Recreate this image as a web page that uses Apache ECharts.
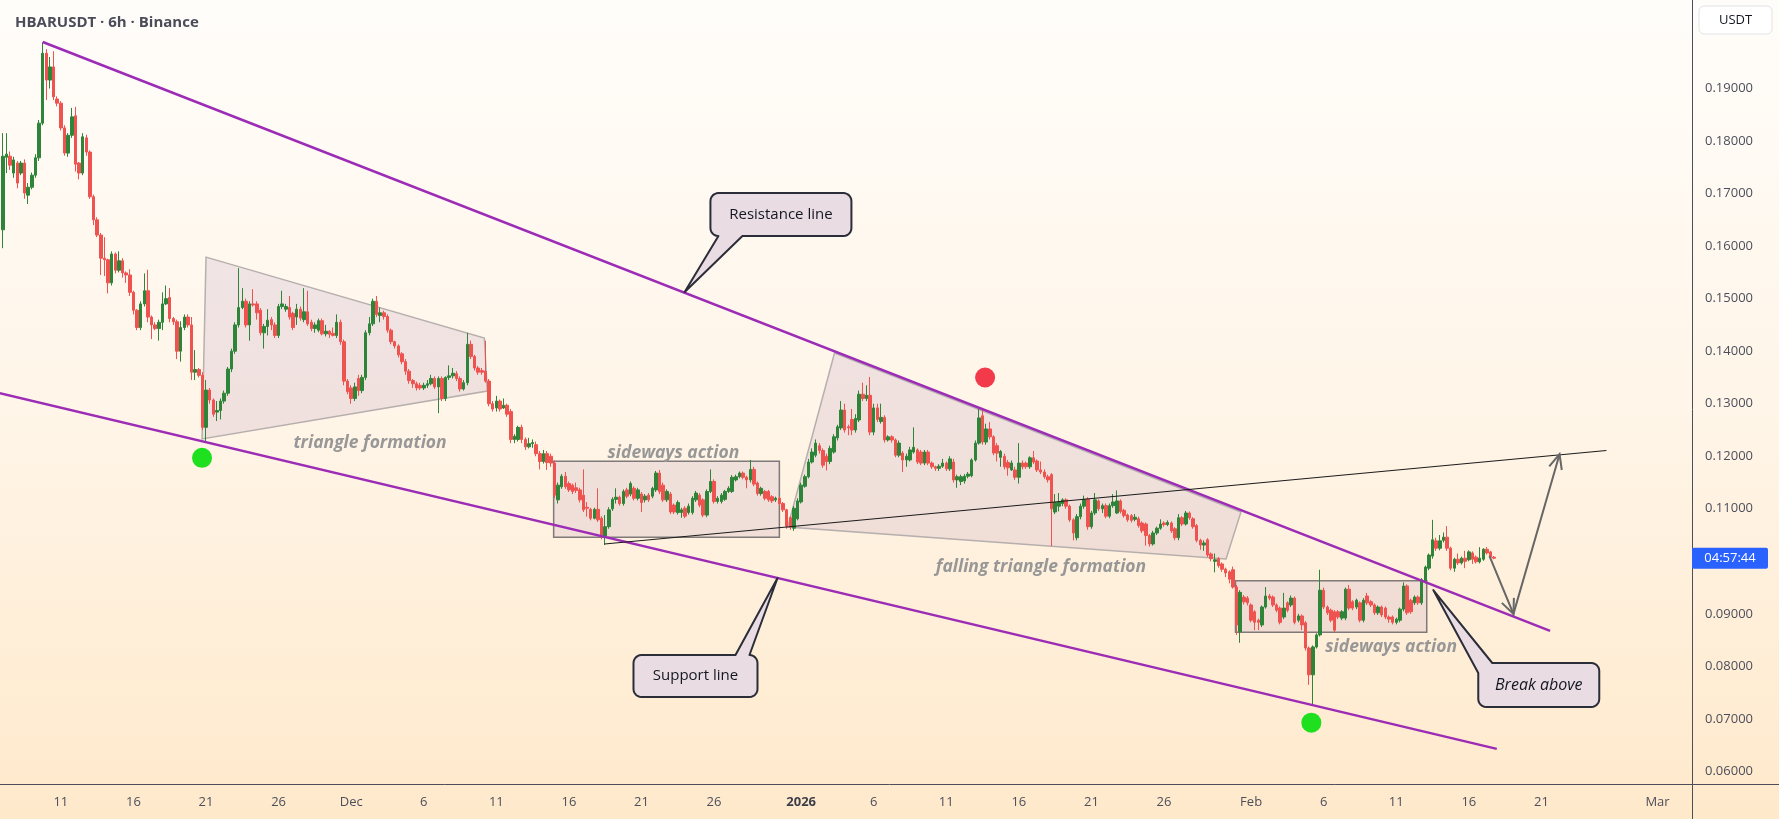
<!DOCTYPE html>
<html>
<head>
<meta charset="utf-8">
<title>HBARUSDT 6h</title>
<script src="https://cdn.jsdelivr.net/npm/echarts@6/dist/echarts.min.js"></script>
<style>
  html, body { margin: 0; padding: 0; }
  #chart { width: 1779px; height: 819px; }
</style>
</head>
<body>
<div id="chart"></div>
<script>
// prices are kept in 1e-4 USDT, one bar = 6h, first bar = 2025-11-07 00:00 UTC
var opens = [
  1631,1769,1771,1739,1758,1739,1758,1697,1712,1735,
  1768,1834,1967,1916,1941,1880,1872,1825,1777,1811,
  1848,1758,1739,1806,1779,1694,1650,1621,1577,1574,
  1530,1585,1554,1572,1549,1545,1512,1478,1445,1490,
  1515,1465,1450,1443,1455,1490,1502,1462,1456,1400,
  1445,1465,1450,1360,1365,1354,1255,1326,1307,1284,
  1287,1305,1320,1366,1400,1450,1483,1495,1450,1490,
  1490,1478,1435,1447,1460,1450,1430,1485,1480,1483,
  1472,1465,1480,1460,1475,1455,1443,1440,1458,1433,
  1438,1434,1430,1455,1418,1343,1330,1310,1348,1325,
  1350,1435,1452,1495,1468,1473,1466,1440,1418,1410,
  1395,1380,1362,1344,1338,1335,1330,1335,1338,1348,
  1332,1348,1310,1350,1353,1357,1348,1328,1340,1413,
  1390,1368,1363,1362,1343,1300,1292,1305,1292,1297,
  1285,1232,1232,1255,1232,1218,1224,1222,1205,1190,
  1205,1200,1187,1117,1142,1162,1148,1145,1140,1136,
  1126,1103,1099,1082,1099,1082,1048,1066,1100,1118,
  1122,1110,1136,1128,1139,1120,1128,1117,1126,1124,
  1136,1168,1145,1117,1128,1107,1093,1093,1101,1093,
  1093,1117,1126,1117,1088,1133,1152,1114,1114,1118,
  1133,1133,1155,1161,1168,1160,1155,1175,1149,1129,
  1133,1133,1123,1117,1120,1110,1098,1083,1063,1081,
  1113,1143,1161,1189,1202,1220,1211,1200,1190,1208,
  1235,1254,1288,1256,1270,1250,1269,1318,1310,1316,
  1246,1292,1266,1274,1231,1237,1231,1202,1206,1193,
  1193,1208,1212,1208,1187,1208,1187,1180,1177,1181,
  1187,1176,1189,1155,1152,1153,1162,1163,1193,1225,
  1277,1227,1252,1237,1220,1198,1200,1188,1174,1174,
  1160,1187,1187,1180,1197,1191,1174,1170,1161,1165,
  1094,1105,1110,1117,1105,1079,1045,1085,1105,1118,
  1066,1092,1115,1100,1106,1086,1106,1092,1115,1097,
  1088,1087,1080,1081,1073,1071,1049,1033,1054,1063,
  1073,1070,1073,1062,1045,1083,1071,1092,1081,1068,
  1040,1031,1041,1014,1000,1005,995,985,980,984,
  951,866,932,930,917,904,888,879,913,934,
  932,917,911,894,921,917,930,888,896,883,
  835,784,837,860,945,913,907,904,904,892,
  892,947,923,913,921,888,934,923,917,902,
  913,911,894,894,884,888,909,953,926,921,
  932,921,962,987,1010,1039,1025,1040,1046,1025,
  987,1004,997,1006,1003,1016,1008,999,1004,1023,
  1018,1008
];
var closes = [
  1771,1775,1754,1764,1720,1758,1701,1712,1735,1768,
  1834,1967,1916,1941,1884,1872,1825,1777,1811,1846,
  1756,1739,1808,1779,1694,1650,1621,1577,1574,1530,
  1585,1554,1572,1549,1545,1512,1478,1445,1490,1515,
  1465,1450,1443,1455,1490,1500,1462,1456,1400,1445,
  1465,1450,1360,1365,1354,1255,1326,1307,1280,1287,
  1305,1320,1366,1400,1450,1483,1495,1450,1490,1488,
  1473,1435,1447,1459,1450,1430,1485,1490,1485,1465,
  1445,1480,1463,1475,1452,1443,1450,1458,1433,1438,
  1432,1430,1455,1418,1343,1323,1310,1332,1325,1350,
  1435,1452,1495,1470,1473,1466,1440,1418,1410,1393,
  1380,1362,1344,1338,1330,1330,1335,1338,1348,1332,
  1348,1310,1350,1353,1358,1348,1328,1340,1413,1390,
  1368,1360,1360,1343,1300,1290,1305,1290,1297,1280,
  1232,1238,1255,1232,1218,1224,1226,1205,1190,1205,
  1188,1187,1126,1145,1162,1142,1136,1133,1135,1117,
  1098,1101,1082,1099,1079,1050,1066,1098,1118,1122,
  1110,1133,1124,1148,1120,1136,1112,1124,1117,1139,
  1168,1133,1117,1133,1094,1094,1112,1098,1086,1105,
  1120,1130,1107,1088,1133,1152,1114,1120,1126,1133,
  1139,1160,1161,1168,1160,1155,1175,1147,1129,1139,
  1120,1117,1115,1120,1110,1098,1067,1065,1101,1115,
  1145,1161,1189,1208,1225,1211,1183,1190,1215,1237,
  1256,1288,1250,1254,1250,1272,1318,1310,1316,1246,
  1292,1270,1274,1231,1237,1231,1202,1225,1193,1200,
  1212,1217,1189,1187,1208,1187,1180,1177,1181,1187,
  1176,1195,1155,1161,1161,1162,1166,1193,1225,1273,
  1227,1252,1237,1206,1206,1209,1180,1178,1187,1160,
  1187,1180,1180,1197,1189,1174,1170,1161,1155,1100,
  1112,1113,1117,1105,1079,1054,1085,1105,1118,1066,
  1092,1117,1100,1106,1086,1106,1113,1115,1095,1087,
  1079,1078,1084,1068,1058,1049,1033,1054,1063,1071,
  1070,1074,1058,1045,1083,1071,1092,1083,1066,1040,
  1031,1035,1012,1005,1003,992,985,978,966,951,
  879,941,923,921,888,884,884,913,934,930,
  917,907,884,911,907,930,884,896,879,835,
  784,837,860,945,913,902,888,869,894,904,
  947,911,911,926,888,926,921,917,902,913,
  898,894,890,884,890,909,953,902,904,932,
  921,965,989,1012,1041,1025,1039,1046,1025,987,
  1004,997,1006,1000,1018,1004,999,1006,1023,1016,
  1008,1006
];
var lows = [
  1596,1739,1745,1730,1710,1735,1690,1680,1708,1730,
  1762,1830,1878,1900,1878,1866,1820,1772,1770,1806,
  1742,1727,1735,1772,1690,1640,1617,1545,1543,1510,
  1525,1548,1550,1540,1530,1505,1470,1440,1440,1485,
  1455,1423,1440,1420,1440,1488,1455,1450,1385,1380,
  1440,1445,1345,1345,1350,1250,1229,1300,1275,1267,
  1270,1300,1315,1360,1395,1445,1480,1445,1420,1485,
  1460,1430,1405,1430,1440,1425,1425,1480,1475,1460,
  1440,1450,1458,1455,1448,1438,1435,1436,1430,1428,
  1425,1428,1425,1412,1335,1318,1300,1305,1315,1320,
  1345,1430,1448,1465,1455,1460,1435,1413,1405,1388,
  1375,1355,1338,1330,1325,1326,1326,1330,1335,1328,
  1282,1305,1305,1345,1348,1343,1323,1325,1335,1385,
  1363,1355,1355,1340,1295,1285,1285,1285,1290,1275,
  1225,1225,1228,1225,1212,1215,1216,1200,1175,1186,
  1174,1180,1120,1110,1138,1138,1132,1128,1130,1112,
  1094,1085,1078,1080,1075,1042,1031,1062,1096,1110,
  1106,1106,1120,1124,1116,1116,1094,1112,1113,1120,
  1132,1128,1113,1113,1090,1090,1089,1083,1082,1089,
  1089,1113,1103,1084,1084,1130,1110,1110,1110,1115,
  1130,1130,1152,1158,1156,1139,1150,1143,1125,1125,
  1116,1113,1111,1113,1106,1094,1062,1060,1058,1078,
  1110,1140,1158,1186,1198,1205,1178,1173,1185,1205,
  1230,1250,1245,1240,1240,1245,1265,1305,1305,1240,
  1240,1265,1262,1226,1228,1226,1198,1198,1170,1180,
  1190,1205,1185,1183,1183,1183,1176,1172,1172,1178,
  1172,1172,1150,1140,1145,1148,1158,1160,1190,1222,
  1222,1222,1232,1202,1190,1180,1175,1163,1172,1155,
  1148,1175,1176,1176,1185,1170,1166,1157,1150,1029,
  1090,1095,1105,1100,1075,1040,1040,1080,1100,1060,
  1062,1088,1096,1092,1082,1082,1102,1090,1091,1083,
  1075,1074,1076,1064,1054,1030,1028,1030,1050,1060,
  1066,1067,1054,1040,1040,1067,1068,1079,1062,1036,
  1022,1020,1008,1000,979,988,980,970,958,948,
  860,845,918,916,884,869,869,875,910,926,
  913,903,880,890,903,913,880,884,869,830,
  765,725,834,857,909,898,884,865,890,888,
  888,907,907,909,884,884,917,913,898,898,
  894,890,883,880,880,884,905,898,900,917,
  917,917,958,983,1005,1020,1021,1036,1020,983,
  980,993,994,987,1000,995,996,996,1001,1013,
  1005,1004
];
var highs = [
  1815,1815,1780,1770,1762,1762,1765,1720,1740,1775,
  1840,1988,1975,1960,1971,1885,1876,1830,1815,1863,
  1865,1760,1815,1812,1782,1698,1655,1625,1617,1576,
  1590,1588,1590,1577,1552,1556,1515,1480,1495,1548,
  1555,1468,1455,1460,1512,1525,1520,1465,1460,1457,
  1470,1470,1465,1402,1368,1360,1345,1330,1310,1305,
  1310,1325,1370,1405,1455,1558,1520,1500,1495,1518,
  1495,1482,1452,1480,1465,1455,1490,1515,1490,1505,
  1475,1490,1485,1520,1515,1460,1455,1462,1462,1450,
  1440,1445,1470,1460,1422,1347,1335,1340,1355,1355,
  1440,1465,1500,1505,1483,1477,1470,1443,1420,1413,
  1398,1385,1366,1347,1342,1340,1340,1345,1355,1352,
  1352,1352,1352,1373,1368,1362,1352,1345,1435,1420,
  1393,1372,1368,1420,1347,1305,1315,1308,1310,1300,
  1290,1242,1258,1260,1236,1235,1232,1228,1210,1212,
  1210,1205,1192,1150,1166,1170,1152,1148,1150,1140,
  1175,1113,1102,1102,1139,1086,1088,1103,1122,1139,
  1125,1137,1140,1152,1143,1140,1132,1128,1130,1142,
  1172,1174,1150,1137,1132,1110,1116,1102,1105,1110,
  1124,1134,1130,1120,1137,1175,1156,1124,1130,1136,
  1143,1164,1165,1171,1171,1163,1193,1180,1152,1142,
  1136,1136,1126,1123,1124,1113,1100,1086,1105,1120,
  1150,1165,1195,1215,1232,1225,1215,1205,1220,1242,
  1260,1305,1300,1260,1290,1280,1325,1340,1335,1351,
  1300,1300,1300,1278,1240,1240,1234,1230,1210,1205,
  1218,1255,1215,1212,1212,1212,1190,1182,1185,1195,
  1190,1200,1195,1165,1165,1166,1170,1196,1230,1290,
  1292,1262,1265,1240,1225,1212,1205,1193,1192,1180,
  1225,1192,1190,1200,1210,1194,1190,1175,1165,1168,
  1128,1130,1120,1120,1108,1082,1090,1110,1125,1122,
  1096,1130,1118,1110,1110,1110,1128,1135,1118,1100,
  1091,1090,1090,1085,1076,1074,1052,1058,1066,1080,
  1076,1078,1076,1065,1090,1086,1096,1095,1084,1071,
  1043,1040,1044,1017,1015,1008,998,988,983,990,
  955,945,936,934,920,907,891,916,951,938,
  935,920,914,940,924,935,933,900,899,886,
  838,840,863,984,950,916,910,907,907,907,
  950,955,926,929,924,930,940,926,920,916,
  916,914,897,897,893,912,960,956,929,935,
  935,968,992,1015,1079,1045,1050,1055,1067,1028,
  1007,1015,1009,1020,1021,1019,1011,1027,1025,1027,
  1020,1010
];

// date axis
var tickDays = ['2025-11-11','2025-11-16','2025-11-21','2025-11-26','2025-12-01','2025-12-06',
  '2025-12-11','2025-12-16','2025-12-21','2025-12-26','2026-01-01','2026-01-06','2026-01-11',
  '2026-01-16','2026-01-21','2026-01-26','2026-02-01','2026-02-06','2026-02-11','2026-02-16',
  '2026-02-21','2026-03-01'];
var tickTexts = ['11','16','21','26','Dec','6','11','16','21','26','2026','6','11','16','21','26',
  'Feb','6','11','16','21','Mar'];
var priceTicks = [600,700,800,900,1000,1100,1200,1300,1400,1500,1600,1700,1800,1900];

// drawings, in [bar index, price] (same units as above)
var resistLine = [[11, 1988.5], [426.4, 867.8]];
var supportLine = [[-0.83, 1320], [411.7, 643]];
var neckLine = [[165.8, 1033], [441.9, 1211]];
var arrowPath = [[409.7, 1010], [416.3, 900], [429.0, 1204]];
var triangleA = [[56.0, 1579], [132.7, 1425], [133.5, 1324], [54.9, 1233]];
var triangleB = [[229.2, 1396.5], [341.2, 1094], [337.1, 1004.5], [216.3, 1065.4]];
var boxA = [[151.8, 1190.4], [214.0, 1045.8]];
var boxB = [[339.7, 963.2], [392.4, 865]];
var greenDots = [[54.9, 1197], [360.6, 693]];
var redDots = [[270.7, 1350]];
var noteTexts = ['triangle formation', 'sideways action', 'falling triangle formation', 'sideways action'];
var notePoints = [[101.2, 1225], [184.8, 1206], [286.1, 989], [382.6, 837]];
var calloutTexts = ['Resistance line', 'Support line', 'Break above'];
var calloutCorners = [[195.0, 1701], [173.8, 821.7], [406.6, 806.5]];
var calloutTips = [[187.9, 1512.6], [213.5, 968.3], [394.2, 945.4]];

var BAR_COUNT = 466;
var start = Date.UTC(2025, 10, 7);
var cats = [];
for (var j = 0; j < BAR_COUNT; j++) {
  cats.push(new Date(start + j * 6 * 3600 * 1000).toISOString().slice(0, 13));
}
var candleData = [];
for (var i = 0; i < opens.length; i++) {
  candleData.push([opens[i], closes[i], lows[i], highs[i]]);
}

function tickIndex(value) {
  if (value.slice(11, 13) !== '00') return -1;
  return tickDays.indexOf(value.slice(0, 10));
}

var FONT = '"Open Sans", "Noto Sans", sans-serif';
var UP = '#2e8539', DOWN = '#ef5350';
var chart = echarts.init(document.getElementById('chart'));

chart.setOption({
  animation: false,
  backgroundColor: {
    type: 'linear', x: 0, y: 0, x2: 0, y2: 1,
    colorStops: [
      { offset: 0, color: '#fffdfa' },
      { offset: 0.5, color: '#fff5e8' },
      { offset: 1, color: '#ffe9cb' }
    ]
  },
  title: {
    text: 'HBARUSDT · 6h · Binance',
    left: 10, top: 10,
    textStyle: { fontFamily: FONT, fontSize: 15, fontWeight: 700, color: '#4a4d59' }
  },
  grid: { left: 1, right: 87, top: 0, bottom: 35 },
  xAxis: [{
    type: 'category',
    data: cats,
    boundaryGap: true,
    axisLine: { show: false },
    axisTick: { show: false },
    splitLine: { show: false },
    axisLabel: {
      interval: function (idx, value) { return tickIndex(value) >= 0; },
      formatter: function (value) {
        var t = tickTexts[tickIndex(value)];
        return t === '2026' ? '{b|2026}' : t;
      },
      color: '#4c4f5b',
      fontFamily: FONT,
      fontSize: 13,
      margin: 12,
      rich: { b: { fontFamily: FONT, fontSize: 13, fontWeight: 'bold', color: '#3b3e49' } }
    }
  }, {
    type: 'value', min: -0.5, max: BAR_COUNT - 0.5, show: false
  }],
  yAxis: {
    type: 'value',
    position: 'right',
    min: 576.2,
    max: 2068.4,
    axisLine: { show: false },
    axisTick: { show: false },
    splitLine: { show: false },
    axisLabel: {
      customValues: priceTicks,
      formatter: function (v) { return (v / 10000).toFixed(5); },
      color: '#4c4f5b',
      fontFamily: FONT,
      fontSize: 13,
      margin: 13
    }
  },
  series: [{
    type: 'candlestick',
    data: candleData,
    barWidth: 3,
    itemStyle: {
      color: UP, color0: DOWN,
      borderColor: UP, borderColor0: DOWN,
      borderWidth: 1
    },
    z: 2
  }, {
    type: 'line', xAxisIndex: 1, data: resistLine, symbol: 'none', silent: true, z: 3,
    lineStyle: { color: '#9c2cb5', width: 2.5 }
  }, {
    type: 'line', xAxisIndex: 1, data: supportLine, symbol: 'none', silent: true, z: 3,
    lineStyle: { color: '#9c2cb5', width: 2.5 }
  }, {
    type: 'line', xAxisIndex: 1, data: neckLine, symbol: 'none', silent: true, z: 3,
    lineStyle: { color: '#1c1c1c', width: 1.2 }
  }]
});

function px(p) {
  return chart.convertToPixel({ xAxisIndex: 1, yAxisIndex: 0 }, p);
}

// quarter arc points, angles in radians (screen coords)
function arc(cx, cy, r, a1, a2) {
  var pts = [];
  for (var s = 0; s <= 6; s++) {
    var a = a1 + (a2 - a1) * s / 6;
    pts.push([cx + r * Math.cos(a), cy + r * Math.sin(a)]);
  }
  return pts;
}

// rounded box with a pointer tail, as one outline
function calloutPoints(x0, y0, w, h, side, a, c, tip) {
  var x1 = x0 + w, y1 = y0 + h, r = 8, H = Math.PI / 2;
  var tr = arc(x1 - r, y0 + r, r, -H, 0);
  var br = arc(x1 - r, y1 - r, r, 0, H);
  var bl = arc(x0 + r, y1 - r, r, H, 2 * H);
  var tl = arc(x0 + r, y0 + r, r, 2 * H, 3 * H);
  var pts = [];
  if (side === 'top') {
    pts = [[x0 + a, y0], tip, [x0 + c, y0]].concat(tr, br, bl, tl);
  } else if (side === 'bottom') {
    pts = tr.concat(br, [[x0 + c, y1], tip, [x0 + a, y1]], bl, tl);
  } else {
    pts = [tip, [x0 + a, y0]].concat(tr, br, bl, [[x0, y0 + c]]);
  }
  return pts;
}

function arrowHead(from, tip) {
  var ang = Math.atan2(from[1] - tip[1], from[0] - tip[0]);
  var len = 16, spread = 0.42;
  return [
    [tip[0] + len * Math.cos(ang + spread), tip[1] + len * Math.sin(ang + spread)],
    tip,
    [tip[0] + len * Math.cos(ang - spread), tip[1] + len * Math.sin(ang - spread)]
  ];
}

var els = [];
var shapeFill = 'rgba(165,130,180,0.17)';
[triangleA, triangleB].forEach(function (poly) {
  els.push({
    type: 'polygon', z: 1, silent: true,
    shape: { points: poly.map(px) },
    style: { fill: shapeFill, stroke: '#b6afae', lineWidth: 1.5 }
  });
});
[boxA, boxB].forEach(function (b) {
  var p0 = px(b[0]), p1 = px(b[1]);
  els.push({
    type: 'rect', z: 1, silent: true,
    shape: { x: p0[0], y: p0[1], width: p1[0] - p0[0], height: p1[1] - p0[1] },
    style: { fill: shapeFill, stroke: '#7f7979', lineWidth: 1.5 }
  });
});
noteTexts.forEach(function (t, i) {
  var p = px(notePoints[i]);
  els.push({
    type: 'text', z: 10, silent: true, x: p[0], y: p[1],
    style: {
      text: t, fill: '#979797', align: 'center', verticalAlign: 'middle',
      font: 'italic bold 17.5px ' + FONT
    }
  });
});
greenDots.forEach(function (d) {
  var p = px(d);
  els.push({ type: 'circle', z: 10, silent: true, shape: { cx: p[0], cy: p[1], r: 10 }, style: { fill: '#1ee01e' } });
});
redDots.forEach(function (d) {
  var p = px(d);
  els.push({ type: 'circle', z: 10, silent: true, shape: { cx: p[0], cy: p[1], r: 10 }, style: { fill: '#f23a4a' } });
});

// projected move arrow
var ap = arrowPath.map(px);
var arrowStyle = { stroke: '#676767', lineWidth: 2, fill: null };
els.push({ type: 'polyline', z: 10, silent: true, shape: { points: ap }, style: arrowStyle });
els.push({ type: 'polyline', z: 10, silent: true, shape: { points: arrowHead(ap[0], ap[1]) }, style: arrowStyle });
els.push({ type: 'polyline', z: 10, silent: true, shape: { points: arrowHead(ap[1], ap[2]) }, style: arrowStyle });

// callouts
var calloutSizes = [[141, 43], [124, 42], [121, 44]];
var calloutSides = [['bottom', 8, 32], ['top', 102, 116], ['corner', 14, 10]];
calloutTexts.forEach(function (t, i) {
  var c = px(calloutCorners[i]);
  var tip = px(calloutTips[i]);
  var w = calloutSizes[i][0], h = calloutSizes[i][1];
  var s = calloutSides[i];
  els.push({
    type: 'polygon', z: 11, silent: true,
    shape: { points: calloutPoints(c[0], c[1], w, h, s[0], s[1], s[2], tip) },
    style: { fill: '#e9dde3', stroke: '#2b2d39', lineWidth: 2, lineJoin: 'round' }
  });
  els.push({
    type: 'text', z: 12, silent: true, x: c[0] + w / 2, y: c[1] + h / 2,
    style: {
      text: t, fill: '#131722', align: 'center', verticalAlign: 'middle',
      font: (i === 2 ? 'italic 16px ' : '15px ') + FONT
    }
  });
});

// countdown tag at the last close
var lastY = px([0, closes[closes.length - 1]])[1];
els.push({ type: 'rect', z: 21, silent: true, shape: { x: 1692, y: lastY - 10.5, width: 76, height: 21, r: 2 }, style: { fill: '#2962ff' } });
els.push({
  type: 'text', z: 22, silent: true, x: 1730, y: lastY,
  style: { text: '04:57:44', fill: '#ffffff', align: 'center', verticalAlign: 'middle', font: '13px ' + FONT }
});

// pane frame
els.push({ type: 'line', z: 20, silent: true, shape: { x1: 1692.5, y1: 0, x2: 1692.5, y2: 819 }, style: { stroke: '#4c4e59', lineWidth: 1 } });
els.push({ type: 'line', z: 20, silent: true, shape: { x1: 0, y1: 784.5, x2: 1779, y2: 784.5 }, style: { stroke: '#4c4e59', lineWidth: 1 } });
// currency box
els.push({ type: 'rect', z: 20, silent: true, shape: { x: 1699, y: 6, width: 73, height: 28, r: 5 }, style: { fill: '#ffffff', stroke: '#e3e3e6', lineWidth: 1 } });
els.push({
  type: 'text', z: 21, silent: true, x: 1735.5, y: 20,
  style: { text: 'USDT', fill: '#131722', align: 'center', verticalAlign: 'middle', font: '13px ' + FONT }
});

chart.setOption({ graphic: { elements: els } });
</script>
</body>
</html>
